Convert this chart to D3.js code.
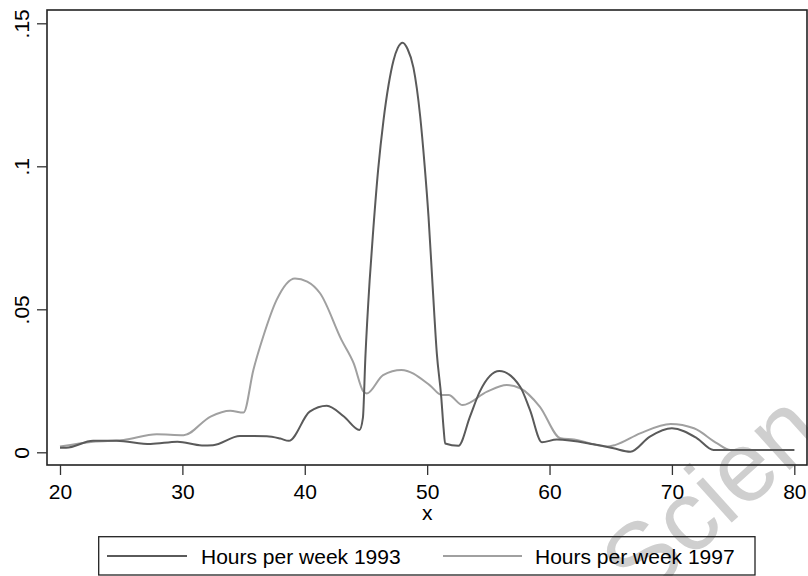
<!DOCTYPE html>
<html>
<head>
<meta charset="utf-8">
<script src="https://cdn.jsdelivr.net/npm/d3@7"></script>
<style>
  body { margin: 0; background: #fff; }
  text { font-family: "Liberation Sans", Arial, sans-serif; }
</style>
</head>
<body>
<div id="chart"></div>
<script>
var W = 808, H = 576;

// kernel density, hours per week 1993
var hours93 = [20, 20.5, 22.7, 24.6, 27.4, 29.6, 31.6, 32.5, 34.7, 36.9, 38, 38.7, 40.4, 41.8, 43.2, 44.47,
  44.75, 44.95, 45.3, 45.6, 46.0, 46.43, 46.85, 47.25, 47.6, 48.0, 48.4, 48.88, 49.43, 49.8, 50.11, 50.45, 50.79, 51.15, 51.35, 51.47,
  52.56, 53.5, 54.3, 55.9, 57.6, 58.4, 59.38, 60.6, 63.6, 65.23, 66.6, 68.2, 70.0, 72.05, 73.4, 80];
var dens93 = [0.0016, 0.0016, 0.004, 0.004, 0.0029, 0.0037, 0.0024, 0.0025, 0.0057, 0.0056, 0.0048, 0.004, 0.0142, 0.0163, 0.0125, 0.0078,
  0.012, 0.033, 0.06, 0.078, 0.099, 0.116, 0.1285, 0.137, 0.1414, 0.1432, 0.141, 0.1345, 0.1175, 0.1, 0.0825, 0.058, 0.0346, 0.0194, 0.008, 0.0031,
  0.0023, 0.0125, 0.0212, 0.0284, 0.0229, 0.0148, 0.0035, 0.0045, 0.0028, 0.0014, 0.0002, 0.0055, 0.0084, 0.0049, 0.0008, 0.0008];

// kernel density, hours per week 1997
var hours97 = [20, 22.7, 25.2, 27.9, 30.1, 32.3, 33.9, 35.0, 35.8, 36.6, 37.7, 39.2, 40.2, 41.25, 43.0, 44.0, 44.8, 45.07,
  46.4, 47.9, 50.2, 51.2, 51.75, 52.9, 54.9, 56.5, 57.6, 59.2, 60.9, 62.0, 64.7, 65.4, 67.4, 69.9, 71.8, 73.7, 74.8, 80];
var dens97 = [0.002, 0.0037, 0.0043, 0.0063, 0.006, 0.0125, 0.0145, 0.0139, 0.0288, 0.0404, 0.0533, 0.0608, 0.0597, 0.0556, 0.0393, 0.0311, 0.0212, 0.0206,
  0.027, 0.0288, 0.0235, 0.02, 0.02, 0.0165, 0.0212, 0.0235, 0.0224, 0.016, 0.0049, 0.0045, 0.002, 0.0026, 0.0066, 0.0099, 0.0084, 0.0031, 0.0008, 0.0008];

var xTicks = [20, 30, 40, 50, 60, 70, 80];
var yTicks = [0, 0.05, 0.1, 0.15];
var yLabels = ["0", ".05", ".1", ".15"];
var seriesNames = ["Hours per week 1993", "Hours per week 1997"];
var seriesColors = ["#5a5a5a", "#a0a0a0"];

var svg = d3.select("#chart").append("svg")
  .attr("width", W)
  .attr("height", H);

var frame = { left: 47, top: 10, right: 807, bottom: 465 };

var x = d3.scaleLinear().domain([20, 80]).range([60, 794.3]);
var y = d3.scaleLinear().domain([0, 0.15]).range([452.3, 23.3]);

var line = d3.line()
  .x(function(d) { return x(d[0]); })
  .y(function(d) { return y(d[1]); })
  .curve(d3.curveMonotoneX);

var data93 = hours93.map(function(h, i) { return [h, dens93[i]]; });
var data97 = hours97.map(function(h, i) { return [h, dens97[i]]; });

// watermark, faint, behind everything
svg.append("text")
  .attr("transform", "translate(640,605) rotate(-42)")
  .attr("font-size", 100)
  .attr("fill", "#cfcfcf")
  .text("Scien");

// lines (1997 first so 1993 sits on top)
svg.append("path")
  .datum(data97)
  .attr("d", line)
  .attr("fill", "none")
  .attr("stroke", seriesColors[1])
  .attr("stroke-width", 2);
svg.append("path")
  .datum(data93)
  .attr("d", line)
  .attr("fill", "none")
  .attr("stroke", seriesColors[0])
  .attr("stroke-width", 2);

// plot frame
svg.append("rect")
  .attr("x", frame.left)
  .attr("y", frame.top)
  .attr("width", frame.right - frame.left)
  .attr("height", frame.bottom - frame.top)
  .attr("fill", "none")
  .attr("stroke", "#222")
  .attr("stroke-width", 1.6);

// x axis
var xAxis = d3.axisBottom(x)
  .tickValues(xTicks)
  .tickSize(10)
  .tickPadding(9)
  .tickFormat(d3.format("d"));
var gx = svg.append("g")
  .attr("transform", "translate(0," + frame.bottom + ")")
  .call(xAxis);
gx.select(".domain").remove();
gx.selectAll(".tick line").attr("stroke", "#333").attr("stroke-width", 1.3);
gx.selectAll(".tick text")
  .attr("font-size", 21)
  .attr("font-family", "'Liberation Sans', Arial, sans-serif")
  .attr("fill", "#000");

// y axis
var yAxis = d3.axisLeft(y)
  .tickValues(yTicks)
  .tickSize(10)
  .tickFormat(function(d, i) { return yLabels[i]; });
var gy = svg.append("g")
  .attr("transform", "translate(" + frame.left + ",0)")
  .call(yAxis);
gy.select(".domain").remove();
gy.selectAll(".tick line").attr("stroke", "#333").attr("stroke-width", 1.3);
gy.selectAll(".tick text")
  .attr("font-size", 21)
  .attr("font-family", "'Liberation Sans', Arial, sans-serif")
  .attr("fill", "#000")
  .attr("text-anchor", "middle")
  .attr("dy", 0)
  .attr("x", 0)
  .attr("transform", "translate(-18,0) rotate(-90)");

// axis title
svg.append("text")
  .attr("x", x(50))
  .attr("y", 520)
  .attr("text-anchor", "middle")
  .attr("font-size", 21)
  .text("x");

// legend
var leg = svg.append("g");
leg.append("rect")
  .attr("x", 98.7)
  .attr("y", 536.7)
  .attr("width", 656.3)
  .attr("height", 38.3)
  .attr("fill", "none")
  .attr("stroke", "#222")
  .attr("stroke-width", 1.3);

var legItems = [
  { x1: 107, x2: 187, tx: 201 },
  { x1: 443, x2: 522, tx: 535 }
];
legItems.forEach(function(it, i) {
  leg.append("line")
    .attr("x1", it.x1).attr("x2", it.x2)
    .attr("y1", 556).attr("y2", 556)
    .attr("stroke", seriesColors[i])
    .attr("stroke-width", 2);
  leg.append("text")
    .attr("x", it.tx)
    .attr("y", 563.5)
    .attr("font-size", 21)
    .attr("fill", "#000")
    .text(seriesNames[i]);
});
</script>
</body>
</html>
